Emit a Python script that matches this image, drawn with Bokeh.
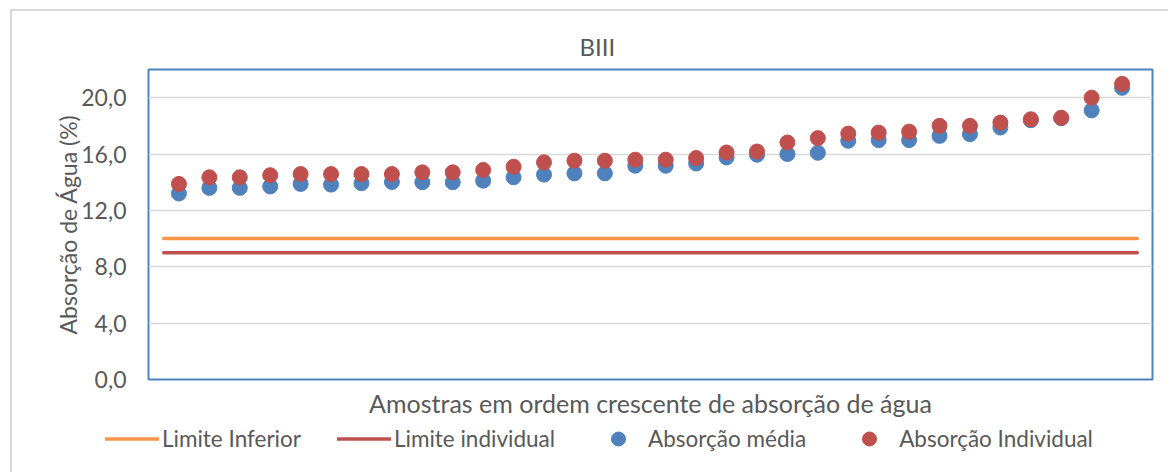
from bokeh.plotting import figure
from bokeh.models import ColumnDataSource, FixedTicker, Legend, LegendItem
from bokeh.embed import file_html
from bokeh.resources import INLINE

# ---- data ----
title_text = "BIII"
x_title = "Amostras em ordem crescente de absorção de água"
y_title = "Absorção de Água (%)"

absorcao_media = [13.2, 13.6, 13.6, 13.7, 13.88, 13.83, 13.93, 14.02, 14.0, 14.0,
                  14.11, 14.35, 14.54, 14.63, 14.63, 15.17, 15.17, 15.33, 15.76, 15.95, 16.0,
                  16.09, 16.94, 16.99, 16.99, 17.29, 17.41, 17.88, 18.4, 18.54, 19.1, 20.7]
absorcao_individual = [13.88, 14.35, 14.35, 14.5, 14.58, 14.58, 14.58, 14.58, 14.7, 14.7,
                       14.87, 15.1, 15.41, 15.53, 15.53, 15.6, 15.6, 15.72, 16.11, 16.18, 16.82,
                       17.13, 17.45, 17.52, 17.59, 18.0, 18.0, 18.23, 18.47, 18.58, 20.0, 20.98]
limite_inferior = 10.0
limite_individual = 9.0

y_ticks = [0, 4, 8, 12, 16, 20]
y_tick_labels = ["0,0", "4,0", "8,0", "12,0", "16,0", "20,0"]

series_names = ["Limite Inferior", "Limite individual", "Absorção média", "Absorção Individual"]

# ---- styling ----
FONT = "Lato"
TXT = "#595959"
BLUE = "#4F81BD"
RED = "#C0504D"
ORANGE = "#F79646"
W = 1158

n = len(absorcao_media)
xs = list(range(1, n + 1))
src = ColumnDataSource(dict(x=xs, media=absorcao_media, indiv=absorcao_individual))

p = figure(width=W, height=412, x_range=(0, n + 1), y_range=(0, 22),
           output_backend="svg", toolbar_location=None,
           min_border_left=136, min_border_right=18, min_border_top=58, min_border_bottom=44)
p.styles = {"margin-left": "10px", "margin-top": "9px",
            "border-left": "2px solid #D9D9D9", "border-top": "2px solid #D9D9D9"}

p.background_fill_color = "white"
p.border_fill_color = "white"
p.outline_line_color = BLUE
p.outline_line_width = 2

# title
p.title.text = title_text
p.title.align = "left"
p.title.offset = 431
p.title.standoff = 17
p.title.text_font = FONT
p.title.text_font_size = "24px"
p.title.text_font_style = "normal"
p.title.text_color = TXT

# axes
p.xaxis.ticker = FixedTicker(ticks=[])
p.xaxis.axis_line_color = None
p.xaxis.major_tick_line_color = None
p.xaxis.minor_tick_line_color = None
p.xaxis.axis_label = x_title
p.xaxis.axis_label_text_font = FONT
p.xaxis.axis_label_text_font_size = "25px"
p.xaxis.axis_label_text_font_style = "normal"
p.xaxis.axis_label_text_color = TXT
p.xaxis.axis_label_standoff = 8

p.yaxis.ticker = FixedTicker(ticks=y_ticks)
p.yaxis.major_label_overrides = {t: l for t, l in zip(y_ticks, y_tick_labels)}
p.yaxis.axis_line_color = None
p.yaxis.major_tick_line_color = None
p.yaxis.minor_tick_line_color = None
p.yaxis.major_label_standoff = 16
p.yaxis.major_label_text_font = FONT
p.yaxis.major_label_text_font_size = "23px"
p.yaxis.major_label_text_color = TXT
p.yaxis.axis_label = y_title
p.yaxis.axis_label_text_font = FONT
p.yaxis.axis_label_text_font_size = "23px"
p.yaxis.axis_label_text_font_style = "normal"
p.yaxis.axis_label_text_color = TXT
p.yaxis.axis_label_standoff = -4

p.xgrid.grid_line_color = None
p.ygrid.grid_line_color = "#D9D9D9"
p.ygrid.grid_line_width = 1.5

# limit lines
lim_x = [0.5, n + 0.5]
p.line(lim_x, [limite_inferior] * 2, line_color=ORANGE, line_width=3.5, line_cap="round")
p.line(lim_x, [limite_individual] * 2, line_color=RED, line_width=3.5, line_cap="round")

# points
p.scatter("x", "media", source=src, size=15, fill_color=BLUE, line_color=BLUE)
p.scatter("x", "indiv", source=src, size=15, fill_color=RED, line_color=RED)

# ---- legend strip (separate root so the legend is not clipped by the plot frame) ----
lg = figure(width=W, height=51, x_range=(0, 1), y_range=(0, 1),
            x_axis_location=None, y_axis_location=None,
            output_backend="svg", toolbar_location=None,
            min_border_left=0, min_border_right=0, min_border_top=0, min_border_bottom=0)
lg.styles = {"margin-left": "10px", "border-left": "2px solid #D9D9D9"}
lg.grid.visible = False
lg.outline_line_color = None
lg.background_fill_color = "white"
lg.border_fill_color = "white"
off = [-10, -9]  # legend-key renderers kept outside the visible range
k_inf = lg.line(off, off, line_color=ORANGE, line_width=3.5, line_cap="round")
k_ind = lg.line(off, off, line_color=RED, line_width=3.5, line_cap="round")
k_med = lg.scatter(off, off, size=15, fill_color=BLUE, line_color=BLUE)
k_ivl = lg.scatter(off, off, size=15, fill_color=RED, line_color=RED)

legend = Legend(items=[LegendItem(label=series_names[0], renderers=[k_inf]),
                       LegendItem(label=series_names[1], renderers=[k_ind]),
                       LegendItem(label=series_names[2], renderers=[k_med]),
                       LegendItem(label=series_names[3], renderers=[k_ivl])],
                orientation="horizontal", location=(93, 16),
                glyph_width=54, glyph_height=35, label_standoff=3, spacing=36,
                padding=0, margin=0, border_line_color=None, background_fill_alpha=0,
                label_text_font=FONT, label_text_font_size="22.5px", label_text_color=TXT)
lg.add_layout(legend, "center")

open("out.html", "w").write(file_html([p, lg], INLINE))
